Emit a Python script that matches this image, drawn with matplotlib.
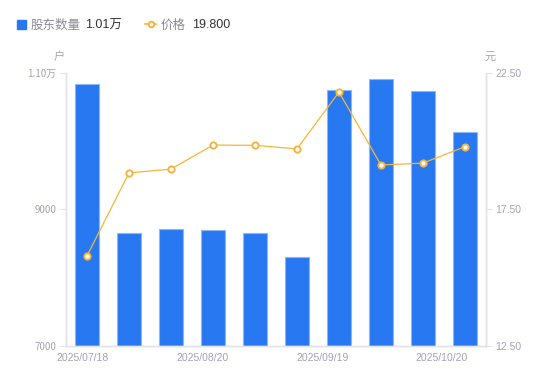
import matplotlib
matplotlib.use("Agg")
import matplotlib.pyplot as plt
from matplotlib.patches import Rectangle
from matplotlib.lines import Line2D

# data
dates = ["2025/07/18", "2025/07/31", "2025/08/08", "2025/08/15", "2025/08/20",
         "2025/08/29", "2025/09/19", "2025/09/30", "2025/10/10", "2025/10/20"]
holders = [10840, 8655, 8715, 8700, 8655, 8305, 10750, 10910, 10735, 10130]
price = [15.80, 18.84, 18.98, 19.86, 19.85, 19.72, 21.80, 19.13, 19.20, 19.80]
label_pos = [-0.1, 2.75, 5.6, 8.45]
label_text = ["2025/07/18", "2025/08/20", "2025/09/19", "2025/10/20"]
left_ticks = [7000, 9000, 11000]
left_tick_labels = ["7000", "9000", "1.10万"]
right_ticks = [12.5, 17.5, 22.5]

BLUE = "#2878f2"
ORANGE = "#f7b538"
GREY = "#a3a3b3"
AXIS = "#e3e3e8"
CJK = ["Noto Sans CJK SC", "DejaVu Sans"]
NUM = ["Liberation Sans", "DejaVu Sans"]

fig = plt.figure(figsize=(5.5, 3.81), dpi=100)
ax = fig.add_axes([0.12, 0.0919, 0.7636, 0.7165])
ax2 = ax.twinx()

x = list(range(len(dates)))
ax.bar(x, holders, width=0.58, color=BLUE, edgecolor="#8db6f7", linewidth=0.8, zorder=2)
ax.set_xlim(-0.5, len(dates) - 0.5)
ax.set_ylim(7000, 11000)
ax2.set_ylim(12.5, 22.5)

ax2.plot(x, price, color=ORANGE, linewidth=0.9, marker="o", markersize=4.5,
         markerfacecolor="white", markeredgecolor=ORANGE, markeredgewidth=1.4, zorder=3)

for a in (ax, ax2):
    for s in a.spines.values():
        s.set_color(AXIS)
        s.set_linewidth(1.0)
    a.spines["top"].set_visible(False)

ax.set_yticks(left_ticks)
ax.set_yticklabels(left_tick_labels, family=CJK[:1] + NUM, fontsize=7, color=GREY)
ax.tick_params(axis="y", length=4, width=0.8, color=AXIS, pad=3)
ax2.set_yticks(right_ticks)
ax2.set_yticklabels(["%.2f" % v for v in right_ticks], family=NUM, fontsize=7.5, color=GREY)
ax2.tick_params(axis="y", length=4, width=0.8, color=AXIS, pad=3)

ax.set_xticks(label_pos)
ax.set_xticklabels(label_text, family=NUM, fontsize=7.5, color=GREY)
ax.tick_params(axis="x", length=0, pad=5)

# unit labels
fig.text(59 / 550, 1 - 57 / 381, "户", family=CJK, fontsize=8, color=GREY, ha="center", va="center")
fig.text(490 / 550, 1 - 57 / 381, "元", family=CJK, fontsize=8, color=GREY, ha="center", va="center")

# legend row (all on one baseline)
base = 1 - 28.5 / 381
fig.add_artist(Rectangle((17 / 550, 1 - 29 / 381), 9 / 550, 9 / 381, color=BLUE,
                         transform=fig.transFigure))
fig.text(31 / 550, base, "股东数量", family=CJK, fontsize=9, color="#8a8a96", va="baseline")
fig.text(85 / 550, base, "1.01万", family=NUM[:1] + CJK, fontsize=9, color="#333333", va="baseline")
fig.add_artist(Line2D([145 / 550, 156 / 550], [1 - 24 / 381] * 2, color=ORANGE, linewidth=1.2,
                      transform=fig.transFigure))
fig.add_artist(Line2D([150.5 / 550], [1 - 24 / 381], marker="o", markersize=4,
                      markerfacecolor="white", markeredgecolor=ORANGE, markeredgewidth=1.4,
                      transform=fig.transFigure))
fig.text(161 / 550, base, "价格", family=CJK, fontsize=9, color="#8a8a96", va="baseline")
fig.text(192 / 550, base, "19.800", family=NUM, fontsize=9, color="#333333", va="baseline")

fig.savefig("out.png", dpi=100)
